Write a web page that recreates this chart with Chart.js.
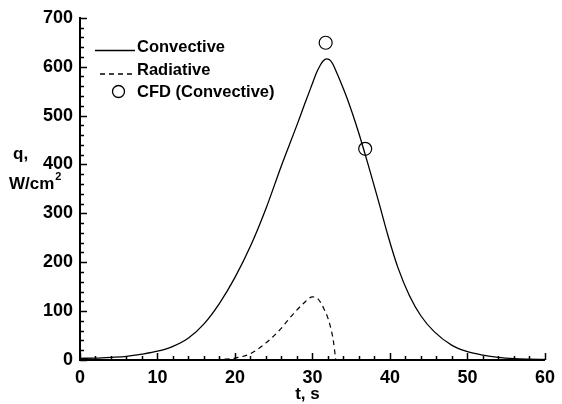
<!DOCTYPE html>
<html>
<head>
<meta charset="utf-8">
<script src="https://cdn.jsdelivr.net/npm/chart.js@4"></script>
<style>
  html, body { margin: 0; padding: 0; background: #fff; }
  #wrap { width: 562px; height: 404px; }
</style>
</head>
<body>
<div id="wrap"><canvas id="heat"></canvas></div>
<script>
// heat flux histories, t in s, q in W/cm2
const tConv = [0, 2, 4, 6, 8, 10, 12, 14, 16, 18, 20, 22, 24, 26, 28, 29, 30, 30.5, 31, 31.4, 31.8, 32.2, 32.6, 33, 33.5, 34.5, 35.9, 37.3, 38.5, 39.8, 41, 42.5, 44, 45.7, 48, 50, 52, 54, 56, 58, 60];
const qConv = [3.5, 4, 5.5, 7.5, 12, 18, 28, 45, 74, 116, 169, 233, 310, 398, 481, 524, 566, 587, 603, 612, 616, 614, 606, 592, 574, 534, 468, 393, 326, 251, 190, 132, 90, 58, 30, 17, 10, 5.5, 3, 1.8, 1];

const tRad = [17.5, 20, 22, 24, 25.8, 27.5, 28.8, 30, 30.7, 31.5, 32.2, 32.7, 33];
const qRad = [0.5, 4, 13, 35, 62, 94, 115, 129, 125, 104, 75, 38, 0];

const tCfd = [31.7, 36.8];
const qCfd = [649, 432];

const xTicks = [0, 10, 20, 30, 40, 50, 60];
const yTicks = [0, 100, 200, 300, 400, 500, 600, 700];

const FONT = "Liberation Sans, Arial, sans-serif";

function pts(xs, ys) {
  return xs.map((x, i) => ({ x: x, y: ys[i] }));
}

// inward tick marks, majors + minors
const tickMarks = {
  id: "tickMarks",
  afterDraw(chart) {
    const ctx = chart.ctx;
    const xs = chart.scales.x, ys = chart.scales.y;
    const x0 = xs.left, y0 = ys.bottom;
    ctx.save();
    ctx.strokeStyle = "#000";
    ctx.lineWidth = 1.5;
    ctx.beginPath();
    for (let v = 0; v <= 60; v += 2) {
      const px = Math.round(xs.getPixelForValue(v)) + 0.5;
      const len = v % 10 === 0 ? 7 : 4;
      ctx.moveTo(px, y0);
      ctx.lineTo(px, y0 - len);
    }
    for (let v = 0; v <= 700; v += 20) {
      const py = Math.round(ys.getPixelForValue(v)) + 0.5;
      const len = v % 100 === 0 ? 7 : 4;
      ctx.moveTo(x0, py);
      ctx.lineTo(x0 + len, py);
    }
    ctx.stroke();
    ctx.restore();
  }
};

// axis titles and legend
const annotations = {
  id: "annotations",
  afterDraw(chart) {
    const ctx = chart.ctx;
    const xs = chart.scales.x;
    ctx.save();
    ctx.fillStyle = "#000";
    ctx.font = "bold 17px " + FONT;
    ctx.textBaseline = "alphabetic";
    ctx.textAlign = "left";
    ctx.fillText("q,", 13, 159);
    ctx.fillText("W/cm", 9, 189);
    const w = ctx.measureText("W/cm").width;
    ctx.font = "bold 11px " + FONT;
    ctx.fillText("2", 9 + w + 1, 180);

    ctx.font = "bold 17px " + FONT;
    ctx.textAlign = "center";
    ctx.fillText("t, s", (xs.left + xs.right) / 2 - 5, 399);

    // legend
    ctx.textAlign = "left";
    ctx.font = "bold 16.5px " + FONT;
    const items = chart.data.datasets;
    const rows = [51.5, 75, 97];
    items.forEach((ds, i) => {
      const y = rows[i];
      ctx.strokeStyle = "#000";
      ctx.lineWidth = 1.3;
      if (ds.showLine) {
        ctx.setLineDash(ds.borderDash || []);
        ctx.beginPath();
        const xStart = ds.borderDash ? 100 : 95;
        ctx.moveTo(xStart, y - 1);
        ctx.lineTo(135, y - 1);
        ctx.stroke();
        ctx.setLineDash([]);
      } else {
        ctx.beginPath();
        ctx.arc(118.5, y - 5.5, 6, 0, Math.PI * 2);
        ctx.stroke();
      }
      ctx.fillText(ds.label, 137, y);
    });
    ctx.restore();
  }
};

new Chart(document.getElementById("heat"), {
  type: "scatter",
  data: {
    datasets: [
      {
        label: "Convective",
        data: pts(tConv, qConv),
        showLine: true,
        borderColor: "#000",
        borderWidth: 1.3,
        pointRadius: 0,
        cubicInterpolationMode: "monotone"
      },
      {
        label: "Radiative",
        data: pts(tRad, qRad),
        showLine: true,
        borderColor: "#000",
        borderWidth: 1.2,
        borderDash: [5, 4],
        pointRadius: 0,
        cubicInterpolationMode: "monotone"
      },
      {
        label: "CFD (Convective)",
        data: pts(tCfd, qCfd),
        showLine: false,
        pointStyle: "circle",
        pointRadius: 6.5,
        pointBorderWidth: 1.2,
        pointBorderColor: "#000",
        pointBackgroundColor: "rgba(0,0,0,0)"
      }
    ]
  },
  options: {
    responsive: true,
    maintainAspectRatio: false,
    animation: false,
    layout: { padding: { top: 16, right: 9, left: 0, bottom: 0 } },
    plugins: {
      legend: { display: false },
      tooltip: { enabled: false }
    },
    scales: {
      x: {
        type: "linear",
        min: 0,
        max: 60,
        afterBuildTicks: (s) => { s.ticks = xTicks.map(v => ({ value: v })); },
        afterFit: (s) => { s.height = 44; },
        ticks: {
          padding: 7,
          color: "#000",
          font: { family: FONT, size: 18, weight: "bold" },
          maxRotation: 0
        },
        grid: { display: false, drawTicks: false },
        border: { display: true, color: "#000", width: 2 }
      },
      y: {
        type: "linear",
        min: 0,
        max: 700,
        afterBuildTicks: (s) => { s.ticks = yTicks.map(v => ({ value: v })); },
        afterFit: (s) => { s.width = 80; },
        ticks: {
          padding: 7,
          color: "#000",
          font: { family: FONT, size: 18, weight: "bold" }
        },
        grid: { display: false, drawTicks: false },
        border: { display: true, color: "#000", width: 2 }
      }
    }
  },
  plugins: [tickMarks, annotations]
});
</script>
</body>
</html>
